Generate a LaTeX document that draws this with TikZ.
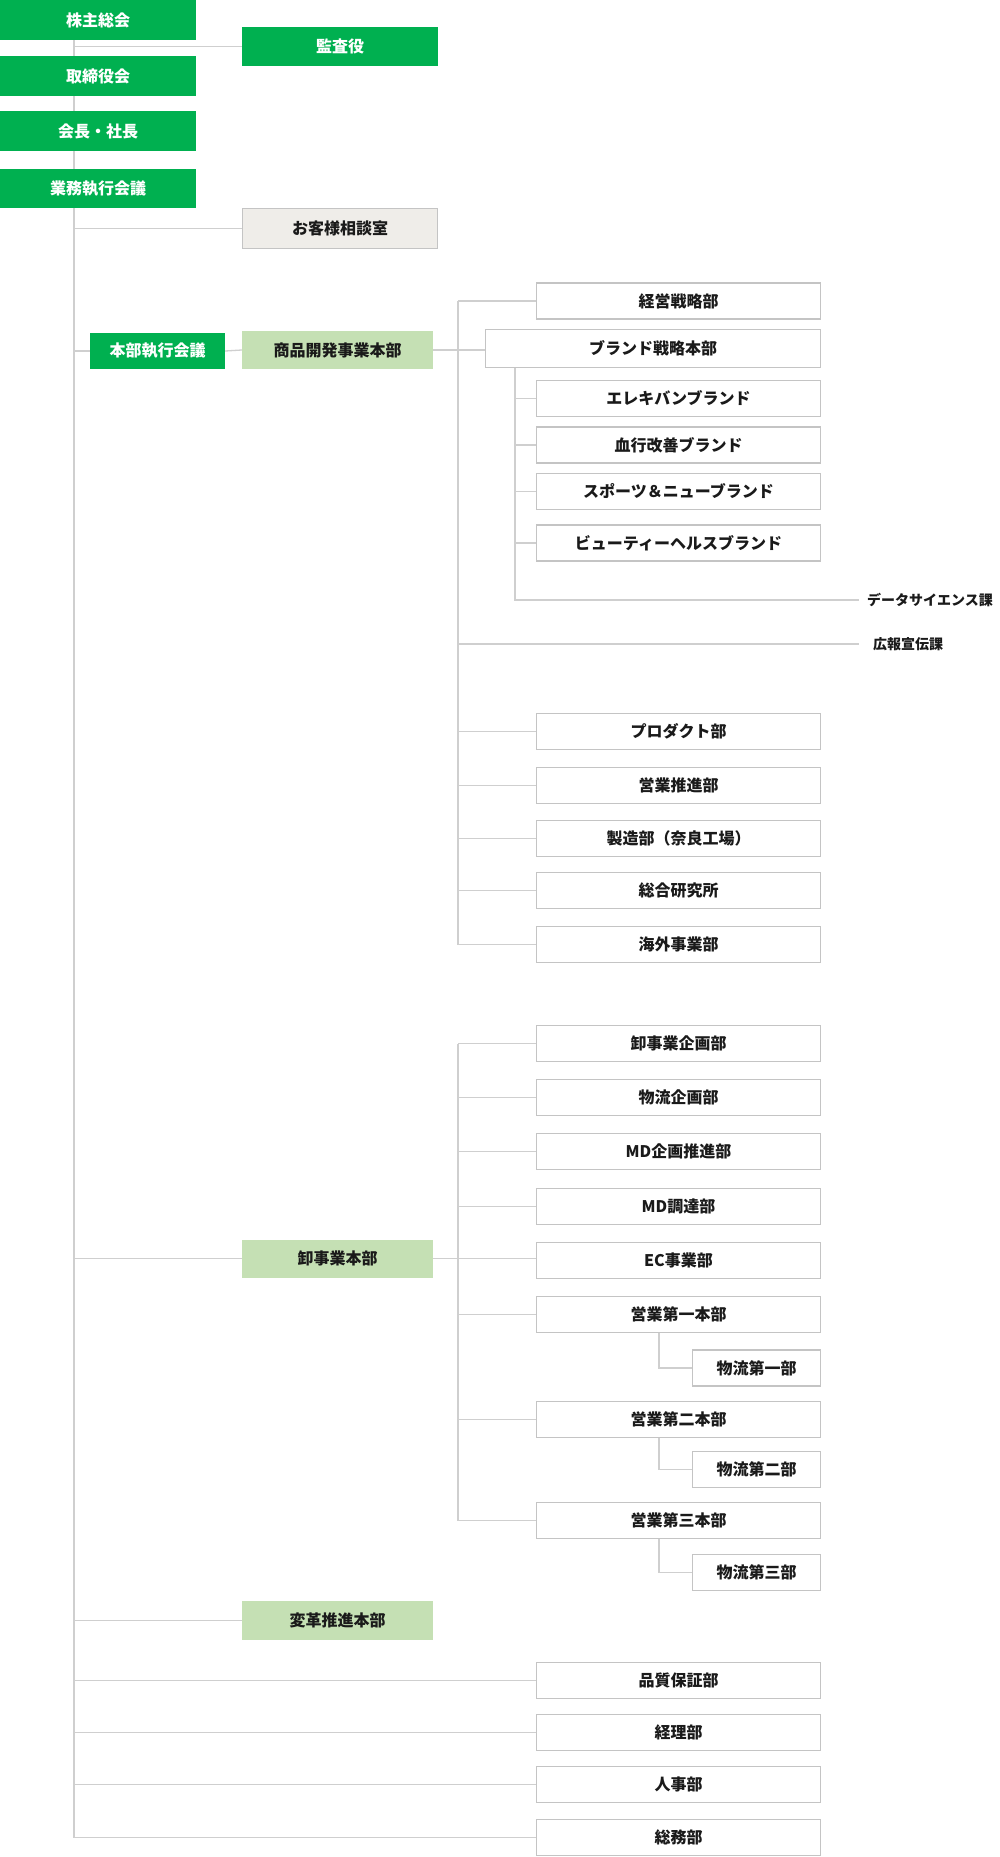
\documentclass[tikz,border=0pt]{standalone}
\usepackage{fontspec}
\setmainfont{Noto Sans CJK JP}
\usetikzlibrary{backgrounds}
\definecolor{dgreen}{HTML}{00B050}
\definecolor{lgreen}{HTML}{C5E0B4}
\definecolor{gyfill}{HTML}{EFEDE9}
\definecolor{bordergray}{HTML}{C4C4C4}
\definecolor{linegray}{HTML}{CFCFCF}
\definecolor{txt}{HTML}{1A1A1A}
\begin{document}
\begin{tikzpicture}[x=1pt,y=-1pt,
  base/.style={inner sep=0pt, font=\bfseries\fontsize{16}{16}\selectfont, align=center},
  gbox/.style={base, fill=dgreen, text=white, minimum width=196, minimum height=40},
  gybox/.style={base, fill=gyfill, draw=bordergray, line width=1.6pt, text=txt, minimum width=195, minimum height=40},
  lgbox/.style={base, fill=lgreen, text=txt, minimum width=191, minimum height=38},
  wbox/.style={base, fill=white, draw=bordergray, line width=1.6pt, text=txt, minimum width=284, minimum height=36},
  sbox/.style={wbox, minimum width=128},
  lbl/.style={inner sep=0pt, anchor=west, text=txt, font=\bfseries\fontsize{14}{14}\selectfont},
  conn/.style={draw=linegray, line width=1.3pt}
]
\useasboundingbox (0,0) rectangle (1000,1857);

% axis coordinates
\coordinate (trunk) at (74,0);
\coordinate (v1) at (458,0);
\coordinate (v2) at (515,0);
\coordinate (v4) at (659,0);
\coordinate (dsend) at (859,600);
\coordinate (kohoend) at (859,644);

% ---------- nodes ----------
\node[gbox] (kabu) at (98,20) {株主総会};
\node[gbox, minimum height=39] (kansa) at (340,46.5) {監査役};
\node[gbox] (tori) at (98,76) {取締役会};
\node[gbox] (kaicho) at (98,131) {会長・社長};
\node[gbox, minimum height=39] (gyomu) at (98,188.5) {業務執行会議};
\node[gybox] (okyaku) at (340,228.5) {お客様相談室};
\node[gbox, minimum width=135, minimum height=36] (honbu) at (157.5,351) {本部執行会議};
\node[lgbox] (shohin) at (337.5,350) {商品開発事業本部};

\node[wbox] (keiei) at (678.5,301) {経営戦略部};
\node[wbox, minimum width=335, minimum height=38] (brand) at (653,348.5) {ブランド戦略本部};
\node[wbox] (ereki) at (678.5,398.5) {エレキバンブランド};
\node[wbox] (kekko) at (678.5,445) {血行改善ブランド};
\node[wbox] (sports) at (678.5,491.5) {スポーツ＆ニューブランド};
\node[wbox] (beauty) at (678.5,543) {ビューティーヘルスブランド};
\node[lbl] (ds) at (867,600) {データサイエンス課};
\node[lbl] (koho) at (873,644) {広報宣伝課};

\node[wbox] (product) at (678.5,731.5) {プロダクト部};
\node[wbox] (suishin) at (678.5,785.5) {営業推進部};
\node[wbox] (seizo) at (678.5,838.5) {製造部（奈良工場）};
\node[wbox] (sogo) at (678.5,890.5) {総合研究所};
\node[wbox] (kaigai) at (678.5,944.5) {海外事業部};

\node[wbox] (okikaku) at (678.5,1043.5) {卸事業企画部};
\node[wbox] (bkikaku) at (678.5,1097.5) {物流企画部};
\node[wbox] (mdkikaku) at (678.5,1151.5) {MD企画推進部};
\node[wbox] (mdcho) at (678.5,1206.5) {MD調達部};
\node[lgbox] (oroshi) at (337.5,1258.5) {卸事業本部};
\node[wbox] (ec) at (678.5,1260.5) {EC事業部};
\node[wbox] (eigyo1) at (678.5,1314.5) {営業第一本部};
\node[sbox] (butsu1) at (756.5,1368) {物流第一部};
\node[wbox] (eigyo2) at (678.5,1419.5) {営業第二本部};
\node[sbox] (butsu2) at (756.5,1469.5) {物流第二部};
\node[wbox] (eigyo3) at (678.5,1520.5) {営業第三本部};
\node[sbox] (butsu3) at (756.5,1572.5) {物流第三部};

\node[lgbox, minimum height=39] (henkaku) at (337.5,1620.5) {変革推進本部};
\node[wbox] (hinshitsu) at (678.5,1680.5) {品質保証部};
\node[wbox] (keiri) at (678.5,1732.5) {経理部};
\node[wbox] (jinji) at (678.5,1784.5) {人事部};
\node[wbox] (somu) at (678.5,1837.5) {総務部};

% ---------- connectors (behind boxes) ----------
\begin{pgfonlayer}{background}
\fill[white] (0,0) rectangle (1000,1857);
% main trunk
\draw[conn] (kabu.south -| trunk) -- (somu.west -| trunk);
\draw[conn] (kansa.west -| trunk) -- (kansa.west);
\draw[conn] (okyaku.west -| trunk) -- (okyaku.west);
\draw[conn] (honbu.west -| trunk) -- (honbu.west);
\draw[conn] (honbu.east) -- (shohin.west);
\draw[conn] (oroshi.west -| trunk) -- (oroshi.west);
\draw[conn] (henkaku.west -| trunk) -- (henkaku.west);
\draw[conn] (hinshitsu.west -| trunk) -- (hinshitsu.west);
\draw[conn] (keiri.west -| trunk) -- (keiri.west);
\draw[conn] (jinji.west -| trunk) -- (jinji.west);
\draw[conn] (somu.west -| trunk) -- (somu.west);
% product development HQ
\draw[conn] (shohin.east) -- (shohin.east -| brand.west);
\draw[conn] (keiei.west -| v1) -- (kaigai.west -| v1);
\draw[conn] (keiei.west -| v1) -- (keiei.west);
\draw[conn] (kohoend -| v1) -- (kohoend);
\draw[conn] (product.west -| v1) -- (product.west);
\draw[conn] (suishin.west -| v1) -- (suishin.west);
\draw[conn] (seizo.west -| v1) -- (seizo.west);
\draw[conn] (sogo.west -| v1) -- (sogo.west);
\draw[conn] (kaigai.west -| v1) -- (kaigai.west);
% brand strategy HQ
\draw[conn] (brand.south -| v2) |- (dsend);
\draw[conn] (ereki.west -| v2) -- (ereki.west);
\draw[conn] (kekko.west -| v2) -- (kekko.west);
\draw[conn] (sports.west -| v2) -- (sports.west);
\draw[conn] (beauty.west -| v2) -- (beauty.west);
% wholesale HQ
\draw[conn] (oroshi.east) -- (oroshi.east -| ec.west);
\draw[conn] (okikaku.west -| v1) -- (eigyo3.west -| v1);
\draw[conn] (okikaku.west -| v1) -- (okikaku.west);
\draw[conn] (bkikaku.west -| v1) -- (bkikaku.west);
\draw[conn] (mdkikaku.west -| v1) -- (mdkikaku.west);
\draw[conn] (mdcho.west -| v1) -- (mdcho.west);
\draw[conn] (eigyo1.west -| v1) -- (eigyo1.west);
\draw[conn] (eigyo2.west -| v1) -- (eigyo2.west);
\draw[conn] (eigyo3.west -| v1) -- (eigyo3.west);
\draw[conn] (eigyo1.south -| v4) |- (butsu1.west);
\draw[conn] (eigyo2.south -| v4) |- (butsu2.west);
\draw[conn] (eigyo3.south -| v4) |- (butsu3.west);
\end{pgfonlayer}
\end{tikzpicture}
\end{document}
